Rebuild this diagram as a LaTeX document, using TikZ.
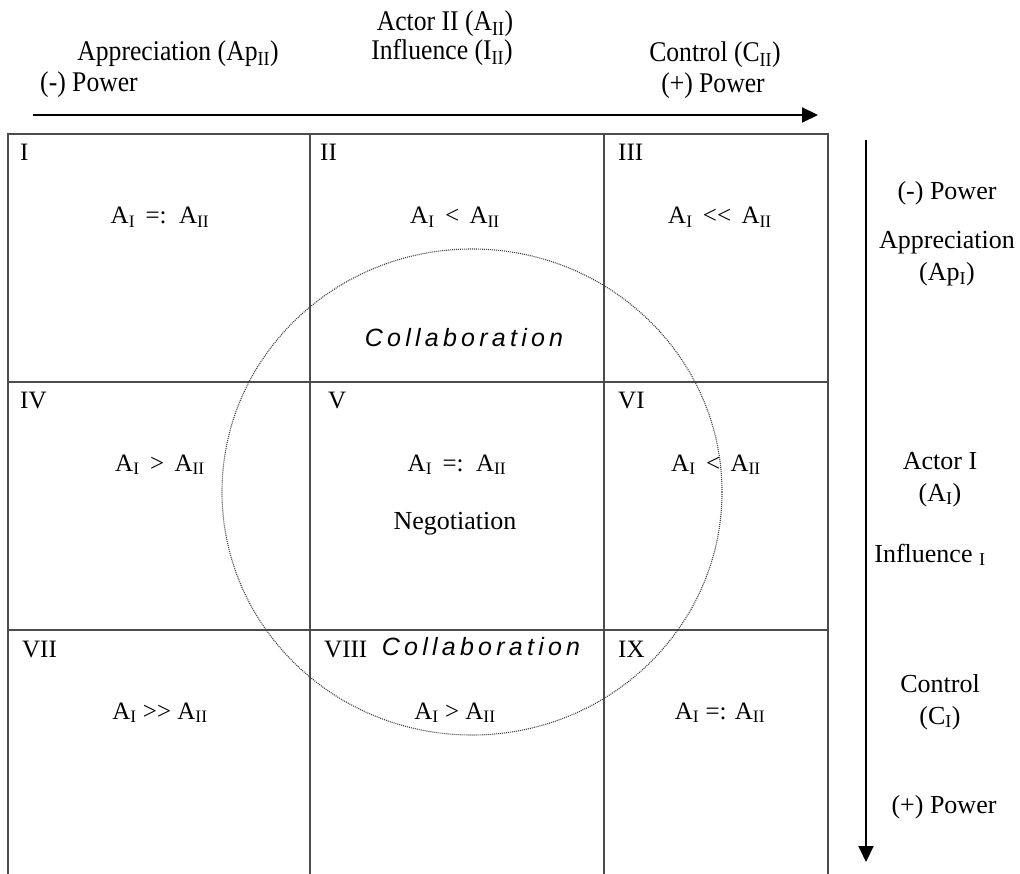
\documentclass[tikz,border=0pt]{standalone}
\usepackage{fontspec}
\setmainfont{Liberation Serif}
\newfontfamily\topfont[FakeStretch=0.9]{Liberation Serif}
\newfontfamily\collabfont[LetterSpace=17]{Liberation Sans}
\usetikzlibrary{arrows.meta}
\newcommand\sbs[1]{\textsubscript{#1}}
\begin{document}
\begin{tikzpicture}[x=1pt,y=-1pt,
  lbl/.style={font=\fontsize{26}{30}\selectfont, inner sep=0pt, anchor=base},
  toplbl/.style={font=\topfont\fontsize{28.5}{32}\selectfont, inner sep=0pt, anchor=base},
  num/.style={font=\fontsize{25}{30}\selectfont, inner sep=0pt, anchor=base west},
  rel/.style={font=\fontsize{25}{30}\selectfont, inner sep=0pt, anchor=base},
  collab/.style={font=\collabfont\itshape\fontsize{25}{30}\selectfont, inner sep=0pt, anchor=base},
  gridline/.style={draw=black!70, line width=1.2pt},
  axis/.style={line width=2pt, -{Triangle[length=16pt,width=15pt]}},
  ring/.style={draw=black!75, line width=1.1pt, dash pattern=on 1pt off 1pt}]
\useasboundingbox (0,0) rectangle (1020,874);
\fill[white] (0,0) rectangle (1020,874);

% grid
\draw[gridline] (8,874) -- (8,134) -- (828,134) -- (828,874);
\draw[gridline] (310,134) -- (310,874);
\draw[gridline] (604,134) -- (604,874);
\draw[gridline] (8,382) -- (828,382);
\draw[gridline] (8,630) -- (828,630);

% circle
\draw[ring] (472,492) ellipse [x radius=250, y radius=243];

% top axis
\coordinate (tA) at (33,115);
\coordinate (tB) at (818,115);
\draw[axis] (tA) -- (tB);
\node[toplbl] (actorII) at (445,31) {Actor II (A\sbs{II})};
\node[toplbl] (apII) at (178,61) {Appreciation (Ap\sbs{II})};
\node[toplbl] (inII) at (442,60) {Influence (I\sbs{II})};
\node[toplbl] (coII) at (715,62) {Control (C\sbs{II})};
\node[toplbl] (mpT) at (89,92) {(-) Power};
\node[toplbl] (ppT) at (713,93) {(+) Power};

% right axis
\coordinate (rA) at (866,140);
\coordinate (rB) at (866,862);
\draw[axis] (rA) -- (rB);
\node[lbl] (mpR) at (947,200) {(-) Power};
\node[lbl] (apI) at (947,249) {Appreciation};
\node[lbl] (apIb) at (947,281) {(Ap\sbs{I})};
\node[lbl] (actorI) at (940,469) {Actor I};
\node[lbl] (actorIb) at (940,501) {(A\sbs{I})};
\node[lbl] (inI) at (930,562) {Influence \sbs{I}};
\node[lbl] (coI) at (940,692) {Control};
\node[lbl] (coIb) at (940,724) {(C\sbs{I})};
\node[lbl] (ppR) at (944,813) {(+) Power};

% cell numerals
\node[num] (n1) at (20,161) {I};
\node[num] (n2) at (320,161) {II};
\node[num] (n3) at (618,161) {III};
\node[num] (n4) at (20,409) {IV};
\node[num] (n5) at (328,409) {V};
\node[num] (n6) at (618,409) {VI};
\node[num] (n7) at (22,657) {VII};
\node[num] (n8) at (324,657) {VIII};
\node[num] (n9) at (618,657) {IX};

% relations
\node[rel] (r1) at (160,224) {A\sbs{I} \,=:\, A\sbs{II}};
\node[rel] (r2) at (455,224) {A\sbs{I} \,<\, A\sbs{II}};
\node[rel] (r3) at (720,224) {A\sbs{I} \,{<}{<}\, A\sbs{II}};
\node[rel] (r4) at (160,471) {A\sbs{I} \,>\, A\sbs{II}};
\node[rel] (r5) at (457,471) {A\sbs{I} \,=:\, A\sbs{II}};
\node[rel] (r6) at (716,471) {A\sbs{I} \,<\, A\sbs{II}};
\node[rel] (r7) at (160,719) {A\sbs{I} {>}{>} A\sbs{II}};
\node[rel] (r8) at (455,719) {A\sbs{I} > A\sbs{II}};
\node[rel] (r9) at (720,719) {A\sbs{I} =: A\sbs{II}};

\node[lbl] (neg) at (455,529) {Negotiation};
\node[collab] (col1) at (464,347) {Collaboration};
\node[collab] (col2) at (481,655) {Collaboration};
\end{tikzpicture}
\end{document}
